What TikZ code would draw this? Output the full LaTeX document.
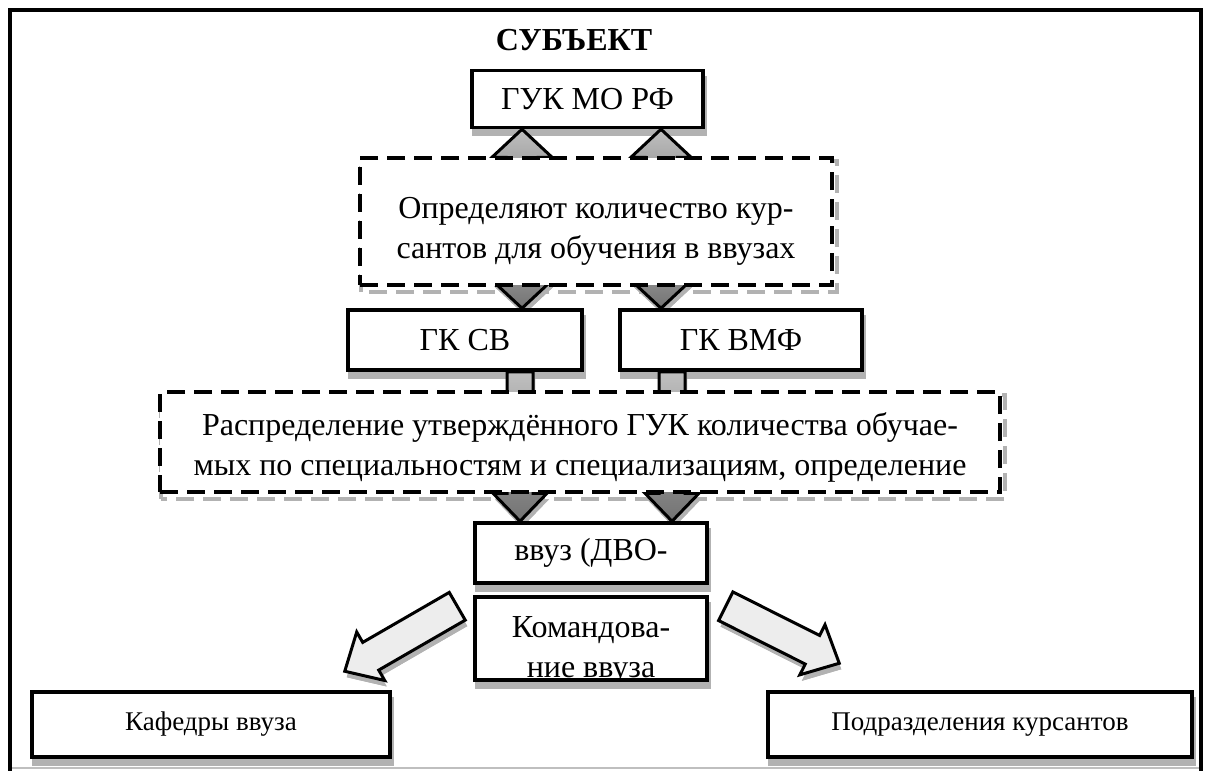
\documentclass[tikz,border=0pt]{standalone}
\usepackage{fontspec}
\setmainfont{Liberation Serif}
\usetikzlibrary{calc}

\pgfdeclarelayer{shadow}
\pgfdeclarelayer{arrows}
\pgfsetlayers{shadow,arrows,main}

% block arrow: [style]{tail}{tip}{shaft half width}{head half width}{head length}
\newcommand{\fatarrow}[6][]{%
  \draw[fatarr,#1] let \p1=(#2), \p2=(#3),
      \n1={atan2(\y2-\y1,\x2-\x1)}, \n2={veclen(\x2-\x1,\y2-\y1)} in
    ($(\p1)+(\n1+90:#4pt)$) -- ++(\n1:\n2-#6pt) -- ++(\n1+90:#5pt-#4pt) -- (\p2)
    -- ($(\p2)+(\n1+180:#6pt)+(\n1-90:#5pt)$) -- ++(\n1+90:#5pt-#4pt)
    -- ++(\n1+180:\n2-#6pt) -- cycle;
}

\tikzset{
  txt/.style={align=center, inner sep=0pt, font=\fontsize{32}{40}\selectfont},
  box/.style={txt, draw, line width=3.5pt, fill=white},
  dashbox/.style={box, line width=4pt, dash pattern=on 18pt off 9pt},
  boxshadow/.style={fill=black!30},
  dashshadow/.style={draw=black!30, line width=4pt, dash pattern=on 18pt off 9pt},
  fatarr/.style={draw, line width=3pt, line join=miter,
    preaction={fill=black!30, transform canvas={shift={(2pt,-6pt)}}}},
  greyarr/.style={fatarr, top color=black!25, bottom color=black!55},
  whitearr/.style={fatarr, fill=black!7},
}

\begin{document}
\begin{tikzpicture}[x=1pt, y=-1pt]
  \useasboundingbox (0,0) rectangle (1205,771);
  \def\sw{16};
  \def\hw{30};
  \def\hl{28};

  % frame
  \draw[line width=4pt] (10,771) -- (10,10) -- (1201,10) -- (1201,771);
  \draw[black!25, line width=1.5pt] (12,768) -- (1199,768);

  \node[txt, font=\bfseries\fontsize{32}{40}\selectfont] (subj) at (574,40) {СУБЪЕКТ};
  \node[box, minimum width=231pt, minimum height=57pt] (guk) at (587.5,99) {ГУК МО РФ};
  \node[dashbox, minimum width=472pt, minimum height=127pt] (opr) at (596,221.5) {};
  \node[txt] (oprtext) at (596,231)
    {Определяют количество кур-\\сантов для обучения в ввузах};
  \node[box, minimum width=234pt, minimum height=60pt] (gksv) at (465,340) {ГК СВ};
  \node[box, minimum width=242pt, minimum height=60pt] (gkvmf) at (741,340) {ГК ВМФ};
  \node[dashbox, minimum width=840pt, minimum height=100pt] (raspr) at (580,442) {};
  \node[txt] (rasprtext) at (580,447)
    {Распределение утверждённого ГУК количества обучае-\\мых по специальностям и специализациям, определение};
  \node[box, minimum width=232pt, minimum height=60pt] (vvuz) at (591,553) {ввуз (ДВО-};
  \node[box, minimum width=232pt, minimum height=83pt,
    path picture={\node[txt, draw=none, fill=none, yshift=-12pt]
      at (path picture bounding box.center) {Командова-\\ние ввуза};}] (komand) at (591,638.5) {};
  \node[box, font=\fontsize{27}{30}\selectfont, minimum width=358pt, minimum height=65pt]
    (kaf) at (211,724.5) {Кафедры ввуза};
  \node[box, font=\fontsize{27}{30}\selectfont, minimum width=424pt, minimum height=65pt]
    (podr) at (980,724.5) {Подразделения курсантов};

  \begin{pgfonlayer}{shadow}
    \foreach \bx in {guk,gksv,gkvmf,vvuz,komand,kaf,podr}
      \fill[boxshadow] ([shift={(2,7)}]\bx.south west) rectangle ([shift={(2,7)}]\bx.north east);
    \foreach \bx in {opr,raspr}
      \draw[dashshadow] ([shift={(3,5)}]\bx.south west) rectangle ([shift={(3,5)}]\bx.north east);
  \end{pgfonlayer}

  \begin{pgfonlayer}{arrows}
    \coordinate (ca) at (522,0);
    \coordinate (cb) at (661,0);
    \coordinate (cc) at (520,0);
    \coordinate (cd) at (672,0);
    \fatarrow[greyarr]{ca |- opr.center}{ca |- guk.south}{\sw}{\hw}{\hl}
    \fatarrow[greyarr]{cb |- opr.center}{cb |- guk.south}{\sw}{\hw}{\hl}
    \fatarrow[greyarr]{ca |- opr.center}{ca |- gksv.north}{\sw}{\hw}{\hl}
    \fatarrow[greyarr]{cb |- opr.center}{cb |- gkvmf.north}{\sw}{\hw}{\hl}
    \fatarrow[greyarr]{cc |- gksv.south}{cc |- vvuz.north}{13}{27}{\hl}
    \fatarrow[greyarr]{cd |- gkvmf.south}{cd |- vvuz.north}{13}{27}{\hl}
    \fatarrow[whitearr]{$(komand.north west)+(-16,11)$}{$(kaf.north east)+(-47,-19)$}{16}{28}{30}
    \fatarrow[whitearr]{$(komand.north east)+(17,11)$}{$(podr.north west)+(73,-27)$}{16}{28}{30}
  \end{pgfonlayer}
\end{tikzpicture}
\end{document}
